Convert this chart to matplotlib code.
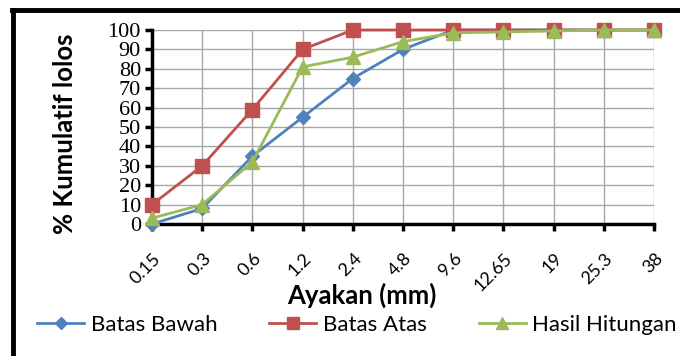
import matplotlib
matplotlib.use('Agg')
import matplotlib.pyplot as plt
import matplotlib.transforms as mtransforms
from matplotlib.lines import Line2D

# sieve sizes (categorical axis)
ayakan = ['0.15', '0.3', '0.6', '1.2', '2.4', '4.8', '9.6', '12.65', '19', '25.3', '38']
batas_bawah = [0, 8, 35, 55, 75, 90, 100, 100, 100, 100, 100]
batas_atas = [10, 30, 59, 90, 100, 100, 100, 100, 100, 100, 100]
hasil_hitungan = [3, 10, 32, 81, 86, 94, 98.5, 99, 99.5, 100, 100]

sans = ['Lato', 'DejaVu Sans']
serif = ['Liberation Serif', 'DejaVu Serif']

fig = plt.figure(figsize=(6.8, 3.56), dpi=100)
ax = fig.add_axes([152/680, 1 - 224/356, 502/680, 194/356])

x = list(range(len(ayakan)))
ax.plot(x, batas_bawah, color='#4F81BD', lw=2, marker='D', ms=7, clip_on=False, zorder=3, label='Batas Bawah')
ax.plot(x, batas_atas, color='#C0504D', lw=2, marker='s', ms=10, clip_on=False, zorder=4, label='Batas Atas')
ax.plot(x, hasil_hitungan, color='#9BBB59', lw=2, marker='^', ms=10, clip_on=False, zorder=5, label='Hasil Hitungan')

ax.set_xlim(0, len(ayakan) - 1)
ax.set_ylim(0, 100)
ax.set_yticks(range(0, 101, 10))
ax.set_xticks(x)
ax.grid(True, color='#a6a6a6', lw=1)
ax.set_axisbelow(True)

for s in ['top', 'right']:
    ax.spines[s].set_visible(False)
for s in ['left', 'bottom']:
    ax.spines[s].set_linewidth(2.5)
    ax.spines[s].set_color('black')
ax.tick_params(axis='both', direction='out', length=5, width=2.5, color='black')
ax.tick_params(axis='y', pad=3)

for lab in ax.get_yticklabels():
    lab.set_family(serif)
    lab.set_fontsize(16)

offset = mtransforms.ScaledTranslation(12/100, 0, fig.dpi_scale_trans)
ax.set_xticklabels(ayakan, rotation=45, ha='right', va='top', family=sans, fontsize=13)
ax.tick_params(axis='x', pad=14)
for lab in ax.get_xticklabels():
    lab.set_transform(lab.get_transform() + offset)

fig.text(65/680, 1 - 134/356, '% Kumulatif lolos', family=sans, fontsize=18.5, fontweight='bold',
         rotation=90, ha='center', va='center')
fig.text(362/680, 1 - 295/356, 'Ayakan (mm)', family=sans, fontsize=18.5, fontweight='bold',
         ha='center', va='center')

fig.legend(handles=ax.get_lines(), loc='center', bbox_to_anchor=(357/680, 1 - 325/356),
           ncol=3, frameon=False, prop={'family': sans, 'size': 16},
           handlelength=2.1, handletextpad=0.3, columnspacing=2.35, markerscale=0.9,
           borderpad=0.1, borderaxespad=0)

# chart border (left and top edges visible in the cropped image)
fig.add_artist(Line2D([13/680, 13/680], [0, 1 - 10/356], transform=fig.transFigure, color='black', lw=3.5))
fig.add_artist(Line2D([12/680, 1], [1 - 10/356, 1 - 10/356], transform=fig.transFigure, color='black', lw=3.5))

fig.savefig('out.png', dpi=100)
